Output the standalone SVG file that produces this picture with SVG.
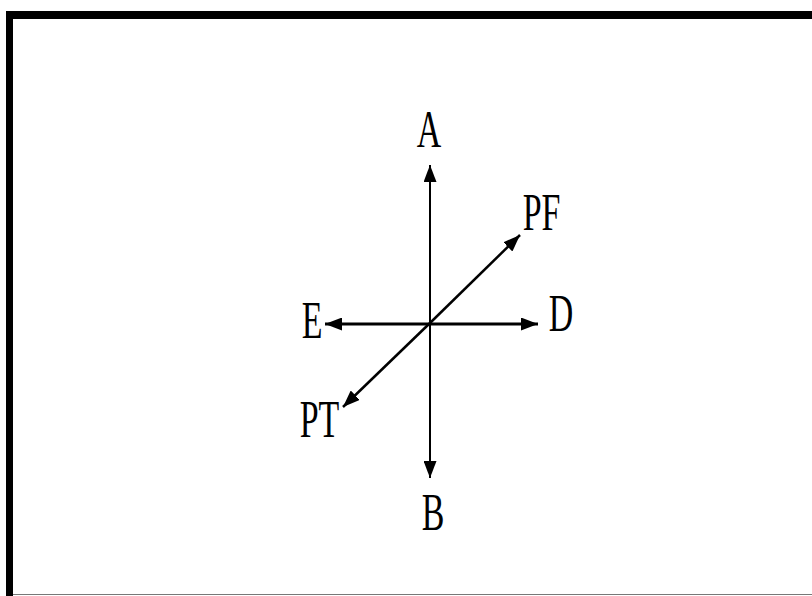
<svg xmlns="http://www.w3.org/2000/svg" width="812" height="596" viewBox="0 0 812 596">
<style>
.lbl{font-family:"Liberation Serif","Times New Roman",serif;font-size:53px;fill:#000;text-anchor:middle}
.ax{stroke:#000;fill:none}
</style>
<defs>
<marker id="ah" markerUnits="userSpaceOnUse" markerWidth="17" markerHeight="13" refX="17" refY="6.5" orient="auto">
<path d="M0,0 L17,6.5 L0,13 z" fill="#000"/>
</marker>
</defs>
<rect width="812" height="596" fill="#fff"/>
<g id="frame">
<rect x="6" y="11" width="806" height="8" fill="#000"/>
<rect x="6" y="11" width="7" height="585" fill="#000"/>
<line x1="13" y1="594.5" x2="812" y2="594.5" stroke="#777" stroke-width="1"/>
</g>
<g id="connectors">
<line class="ax" x1="430" y1="323" x2="430" y2="165" stroke-width="2" marker-end="url(#ah)"/>
<line class="ax" x1="430" y1="323" x2="430" y2="478" stroke-width="2" marker-end="url(#ah)"/>
<line class="ax" x1="430" y1="324" x2="325" y2="324" stroke-width="3" marker-end="url(#ah)"/>
<line class="ax" x1="430" y1="324" x2="538" y2="324" stroke-width="3" marker-end="url(#ah)"/>
<line class="ax" x1="430" y1="323" x2="520" y2="235" stroke-width="2.5" marker-end="url(#ah)"/>
<line class="ax" x1="430" y1="323" x2="343" y2="407" stroke-width="2.5" marker-end="url(#ah)"/>
</g>
<g id="A"><text class="lbl" transform="translate(429,147) scale(0.64,1)">A</text></g>
<g id="PF"><text class="lbl" transform="translate(541.5,230) scale(0.64,1)">PF</text></g>
<g id="E"><text class="lbl" transform="translate(312,338) scale(0.64,1)">E</text></g>
<g id="D"><text class="lbl" transform="translate(561,331) scale(0.64,1)">D</text></g>
<g id="PT"><text class="lbl" transform="translate(319.5,437) scale(0.64,1)">PT</text></g>
<g id="B"><text class="lbl" transform="translate(433,530) scale(0.64,1)">B</text></g>
</svg>
